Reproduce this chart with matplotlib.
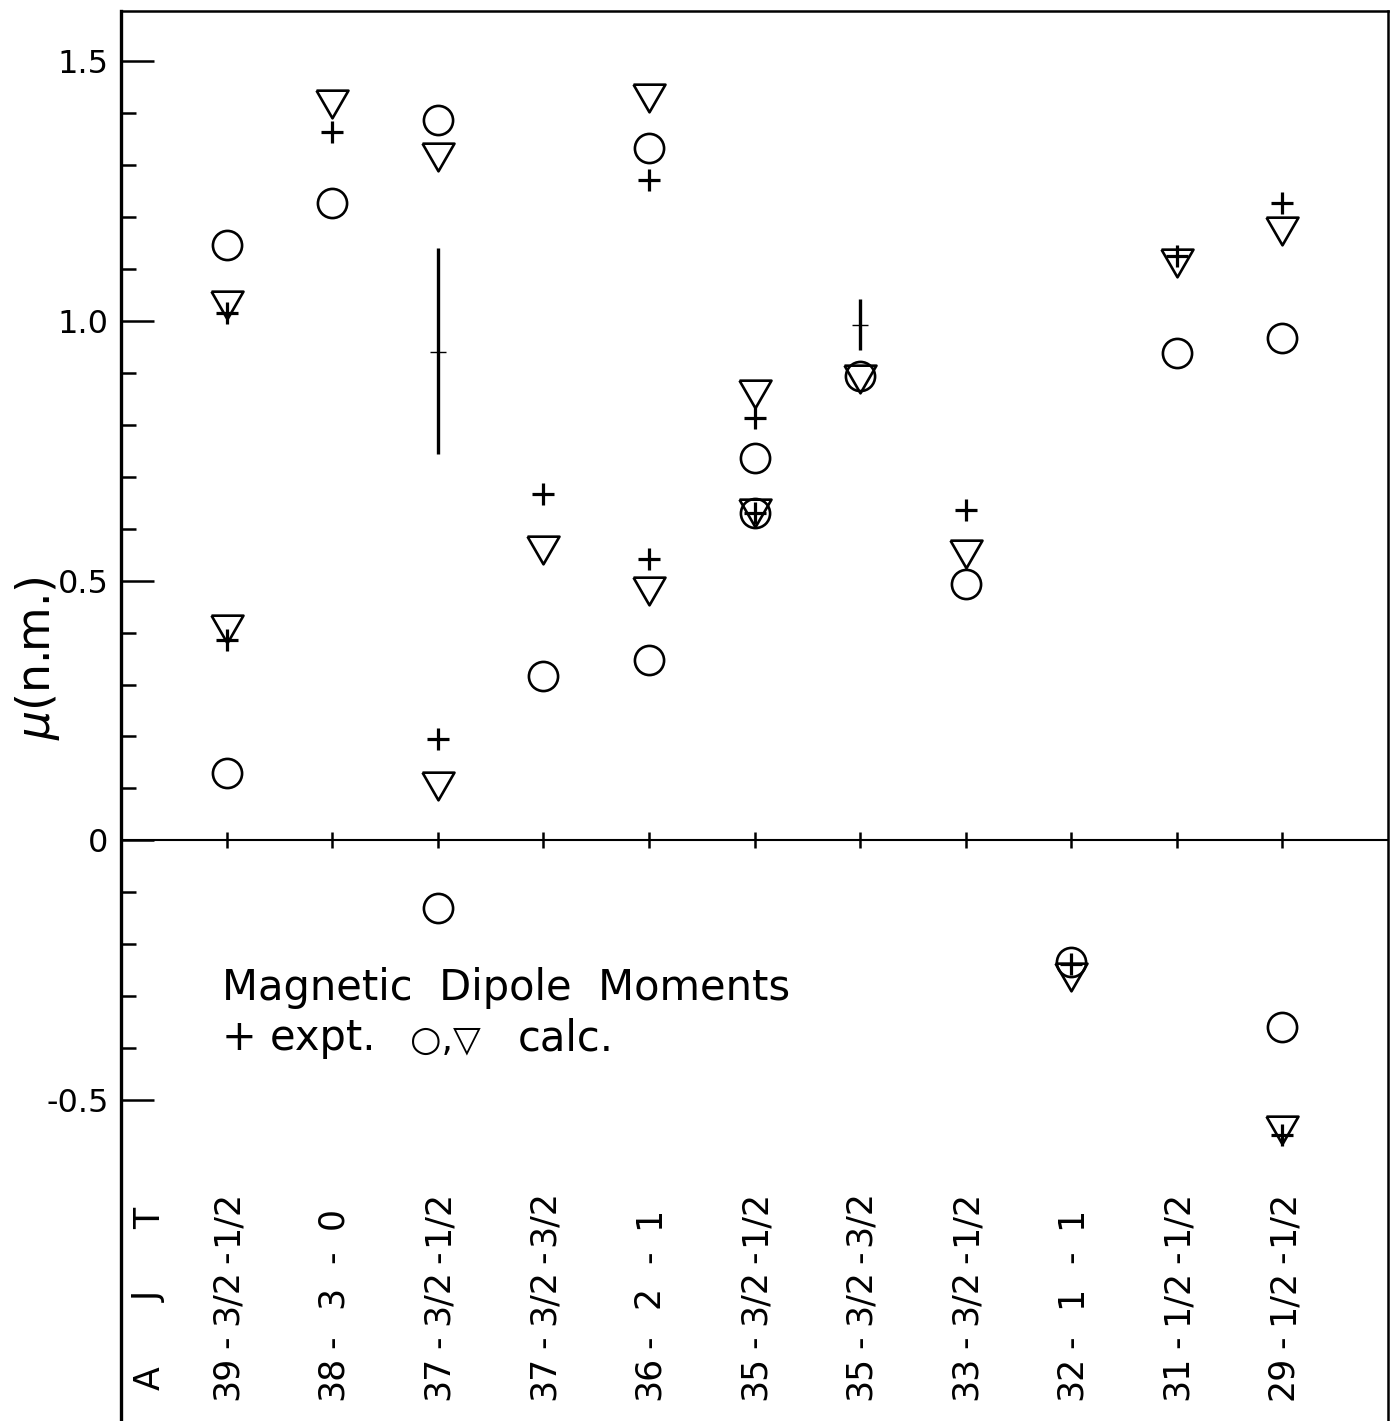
import matplotlib
matplotlib.use("Agg")
import matplotlib.pyplot as plt
import numpy as np

# ---- data ----
A_vals = ["39", "38", "37", "37", "36", "35", "35", "33", "32", "31", "29"]
J_vals = ["3/2", "3", "3/2", "3/2", "2", "3/2", "3/2", "3/2", "1", "1/2", "1/2"]
T_vals = ["1/2", "0", "1/2", "3/2", "1", "1/2", "3/2", "1/2", "1", "1/2", "1/2"]

# calculated (circles)
circ_idx = [0, 0, 1, 2, 2, 3, 4, 4, 5, 5, 6, 7, 8, 9, 10, 10]
circ_mu = [1.146, 0.129, 1.227, 1.387, -0.131, 0.316, 1.333, 0.348,
           0.735, 0.631, 0.894, 0.494, -0.234, 0.938, 0.967, -0.360]

# calculated (triangles)
tri_idx = [0, 0, 1, 2, 2, 3, 4, 4, 5, 5, 6, 7, 8, 9, 10, 10]
tri_mu = [1.031, 0.407, 1.418, 1.315, 0.105, 0.559, 1.428, 0.480,
          0.860, 0.631, 0.888, 0.552, -0.262, 1.112, 1.173, -0.558]

# experimental (plus)
exp_idx = [0, 0, 1, 2, 3, 4, 4, 5, 5, 7, 8, 9, 10, 10]
exp_mu = [1.015, 0.386, 1.363, 0.196, 0.667, 1.271, 0.542,
          0.812, 0.631, 0.635, -0.237, 1.125, 1.227, -0.567]

# experimental values with large error bars
err_idx = [2, 6]
err_mu = [0.940, 0.992]
err_lo = [0.196, 0.048]
err_hi = [0.200, 0.050]

yticks = [-0.5, 0, 0.5, 1.0, 1.5]
yticklabels = ["-0.5", "0", "0.5", "1.0", "1.5"]

# ---- figure ----
W, H = 1390, 1421
fig = plt.figure(figsize=(W / 100, H / 100), dpi=100)
ax = fig.add_axes([121 / W, 0, (1388 - 121) / W, (H - 11) / H])
ax.set_xlim(-1, 11)
ax.set_ylim(-(H - 840) / 520, 1.5 + (61 - 11) / 520)

ax.spines['bottom'].set_visible(False)
ax.spines['left'].set_linewidth(2.4)
ax.spines['top'].set_linewidth(1.8)
ax.spines['right'].set_linewidth(1.8)

ax.set_xticks([])
ax.set_yticks(yticks)
ax.set_yticklabels(yticklabels)
ax.set_yticks(np.round(np.arange(-0.4, 1.45, 0.1), 2), minor=True)
ax.tick_params(axis='y', which='major', direction='in', length=24,
               width=1.8, labelsize=23, pad=9)
ax.tick_params(axis='y', which='minor', direction='in', length=11, width=1.8)

# zero line with category ticks
ax.axhline(0, color='k', lw=1.5, zorder=1)
ax.plot(range(len(A_vals)), [0] * len(A_vals), ls='none', marker='|',
        ms=12, mew=1.8, color='k')

tri_verts = [(-1, 0.866), (1, 0.866), (0, -0.866), (-1, 0.866)]

ax.plot(circ_idx, circ_mu, ls='none', marker='o', ms=21, mfc='none',
        mec='k', mew=1.9)
ax.plot(tri_idx, tri_mu, ls='none', marker=tri_verts, ms=23, mfc='none',
        mec='k', mew=1.9)
ax.plot(exp_idx, exp_mu, ls='none', marker='+', ms=16, mew=2.3, color='k')
ax.errorbar(err_idx, err_mu, yerr=[err_lo, err_hi], fmt='_', ms=11, mew=1,
            ecolor='k', color='k', elinewidth=2.4, capsize=0)

# y label
fig.text(37 / W, 1 - 658 / H, r"$\mu$(n.m.)", rotation=90, fontsize=33,
         ha='center', va='center')

# category labels (A - J - T)
yA, yD1, yJ, yD2, yT = [-(p - 840) / 520 for p in (1378, 1342, 1297, 1257, 1218)]
lab_kw = dict(rotation=90, ha='center', va='center', fontsize=25)
for i in range(len(A_vals)):
    ax.text(i, yA, A_vals[i], **lab_kw)
    ax.text(i, yD1, "-", **lab_kw)
    ax.text(i, yJ, J_vals[i], **lab_kw)
    ax.text(i, yD2, "-", **lab_kw)
    ax.text(i, yT, T_vals[i], **lab_kw)
hx = (150 - 226.6) / 105.58
ax.text(hx, yA, "A", **lab_kw)
ax.text(hx, yJ, "J", **lab_kw)
ax.text(hx, yT, "T", **lab_kw)

# annotation
ax.text(-0.04, -(1000 - 840) / 520, "Magnetic  Dipole  Moments",
        fontsize=30, ha='left', va='baseline')
y2 = -(1050 - 840) / 520
ax.text(-0.04, y2, "+ expt.", fontsize=30, ha='left', va='baseline')
ax.text((410 - 226.6) / 105.58, y2, "\u25CB,\u25BD", fontsize=26,
        ha='left', va='baseline')
ax.text((518 - 226.6) / 105.58, y2, "calc.", fontsize=30, ha='left',
        va='baseline')

fig.savefig("out.png", dpi=100, facecolor='white')
